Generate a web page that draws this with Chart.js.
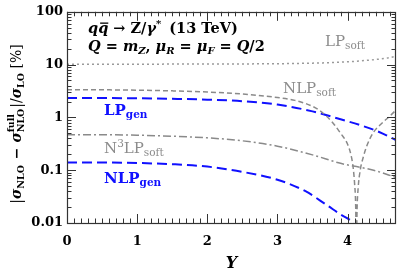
<!DOCTYPE html>
<html><head><meta charset="utf-8">
<script src="https://cdn.jsdelivr.net/npm/chart.js@4/dist/chart.umd.min.js"></script>
<style>html,body{margin:0;padding:0;background:#fff;}#wrap{width:399px;height:271px;}</style>
</head><body><div id="wrap"><canvas id="c" width="399" height="271"></canvas></div>
<script>
// ---- data ----
const xTicks = [0, 1, 2, 3, 4];
const yTicks = [0.01, 0.1, 1, 10, 100];
const yTickLabels = ['0.01', '0.1', '1', '10', '100'];

const lpSoftX = [0, 1, 2, 2.5, 3, 3.5, 3.8, 4, 4.2, 4.4, 4.55, 4.69];
const lpSoftV = [10.2, 10.2, 10.25, 10.3, 10.4, 10.65, 10.95, 11.3, 11.8, 12.5, 13.2, 14.4];

const nlpSoftX = [0, 0.5, 1, 1.5, 2, 2.5, 3, 3.25, 3.5, 3.6, 3.7, 3.8, 3.9, 4.0, 4.05, 4.08, 4.1, 4.115, 4.125, 4.135, 4.15, 4.18, 4.22, 4.27, 4.36, 4.5, 4.6, 4.69];
const nlpSoftV = [3.35, 3.33, 3.28, 3.18, 3.02, 2.77, 2.38, 2.1, 1.62, 1.35, 1.05, 0.76, 0.5, 0.31, 0.19, 0.11, 0.055, 0.022, 0.003, 0.018, 0.045, 0.1, 0.17, 0.28, 0.5, 0.8, 1.05, 1.38];

const lpGenX = [0, 0.5, 1, 1.5, 2, 2.5, 3, 3.5, 3.9, 4.2, 4.45, 4.69];
const lpGenV = [2.33, 2.33, 2.3, 2.25, 2.17, 2.03, 1.75, 1.3, 0.92, 0.7, 0.53, 0.37];

const n3lpSoftX = [0, 0.5, 1, 1.5, 2, 2.5, 3, 3.5, 3.9, 4.37, 4.69];
const n3lpSoftV = [0.47, 0.47, 0.46, 0.44, 0.41, 0.36, 0.285, 0.195, 0.135, 0.1, 0.073];

const nlpGenX = [0, 0.5, 1, 1.5, 2, 2.5, 3, 3.4, 3.7, 3.9, 4.04, 4.12];
const nlpGenV = [0.14, 0.14, 0.137, 0.13, 0.117, 0.093, 0.066, 0.04, 0.022, 0.0145, 0.0112, 0.0085];

// ---- helpers ----
const pts = (xs, vs) => xs.map((x, i) => ({x: x, y: vs[i]}));
const FAM = '"DejaVu Serif", serif';
const BLUE = '#1010ff';
const GRAY = '#8c8c8c';
function fnt(p, base) {
  const sz = p.z || base;
  return (p.i ? 'italic ' : '') + (p.b === false ? 'normal ' : 'bold ') + sz + 'px ' + FAM;
}
function measure(ctx, parts, base) {
  let w = 0;
  for (const p of parts) {
    ctx.font = fnt(p, base);
    let w1 = ctx.measureText(p.t).width;
    if (p.stack) { ctx.font = fnt(p.stack, base); w1 = Math.max(w1, ctx.measureText(p.stack.t).width); }
    w += w1 + (p.k || 0);
  }
  return w;
}
function drawRich(ctx, x, y, parts, base, color, align) {
  ctx.save();
  ctx.fillStyle = color; ctx.strokeStyle = color;
  ctx.textBaseline = 'alphabetic'; ctx.textAlign = 'left';
  let cx = x;
  if (align === 'center') cx = x - measure(ctx, parts, base) / 2;
  for (const p of parts) {
    ctx.font = fnt(p, base);
    const w1 = ctx.measureText(p.t).width;
    ctx.fillText(p.t, cx, y + (p.dy || 0));
    let w = w1;
    if (p.bar) {
      ctx.lineWidth = 1.3; ctx.beginPath();
      ctx.moveTo(cx + 2, y - base * 0.68); ctx.lineTo(cx + w1, y - base * 0.68); ctx.stroke();
    }
    if (p.stack) {
      ctx.font = fnt(p.stack, base);
      ctx.fillText(p.stack.t, cx, y + (p.stack.dy || 0));
      w = Math.max(w1, ctx.measureText(p.stack.t).width);
    }
    cx += w + (p.k || 0);
  }
  ctx.restore();
}

const decor = {
  id: 'decor',
  afterDatasetsDraw(chart) {
    const ctx = chart.ctx, a = chart.chartArea, xs = chart.scales.x, ys = chart.scales.y;
    ctx.save();
    ctx.setLineDash([]);
    ctx.strokeStyle = '#333'; ctx.lineWidth = 1;
    ctx.beginPath();
    // x ticks (bottom/top)
    for (let k = 0; k <= 46; k++) {
      const px = Math.round(xs.getPixelForValue(k / 10)) + 0.5;
      const len = (k % 10 === 0) ? 9 : 4.5;
      ctx.moveTo(px, a.bottom); ctx.lineTo(px, a.bottom - len);
      ctx.moveTo(px, a.top); ctx.lineTo(px, a.top + len);
    }
    // y ticks (left/right)
    for (let d = -2; d <= 1; d++) {
      for (let m = 1; m <= 9; m++) {
        const py = Math.round(ys.getPixelForValue(m * Math.pow(10, d))) + 0.5;
        const len = (m === 1) ? 9 : 4.5;
        ctx.moveTo(a.left, py); ctx.lineTo(a.left + len, py);
        ctx.moveTo(a.right, py); ctx.lineTo(a.right - len, py);
      }
    }
    ctx.stroke();
    ctx.lineWidth = 1.2;
    ctx.strokeRect(Math.round(a.left) + 0.5, Math.round(a.top) + 0.5, Math.round(a.right - a.left) - 1, Math.round(a.bottom - a.top));
    ctx.restore();
  },
  afterDraw(chart) {
    const ctx = chart.ctx, a = chart.chartArea;
    const B = 14.5, S = 10;
    // process text
    drawRich(ctx, 88, 33, [
      {t: 'q', i: true}, {t: 'q', i: true, bar: true}, {t: ' → Z/'}, {t: 'γ', i: true},
      {t: '*', z: 10, dy: -6, k: 3}, {t: ' (13 TeV)'}
    ], B, '#000');
    drawRich(ctx, 88, 50.5, [
      {t: 'Q', i: true}, {t: ' = '}, {t: 'm', i: true}, {t: 'Z', i: true, z: S, dy: 3},
      {t: ', '}, {t: 'μ', i: true}, {t: 'R', i: true, z: S, dy: 3}, {t: ' = '},
      {t: 'μ', i: true}, {t: 'F', i: true, z: S, dy: 3}, {t: ' = '}, {t: 'Q', i: true}, {t: '/2'}
    ], B, '#000');
    // curve labels
    const L = 15, LS = 10.5;
    drawRich(ctx, 325, 45.5, [{t: 'LP', b: false}, {t: 'soft', b: false, z: LS, dy: 3}], L, GRAY);
    drawRich(ctx, 283, 93, [{t: 'NLP', b: false}, {t: 'soft', b: false, z: LS, dy: 3}], L, GRAY);
    drawRich(ctx, 104, 115, [{t: 'LP'}, {t: 'gen', z: LS, dy: 3}], L, BLUE);
    drawRich(ctx, 104, 152.5, [{t: 'N', b: false}, {t: '3', b: false, z: LS, dy: -6}, {t: 'LP', b: false}, {t: 'soft', b: false, z: LS, dy: 3}], L, GRAY);
    drawRich(ctx, 104, 183, [{t: 'NLP'}, {t: 'gen', z: LS, dy: 3}], L, BLUE);
    // x title
    drawRich(ctx, (a.left + a.right) / 2, 268, [{t: 'Y', i: true}], 16, '#000', 'center');
    // y title (rotated)
    ctx.save();
    ctx.translate(21, 124);
    ctx.rotate(-Math.PI / 2);
    drawRich(ctx, 0, 0, [
      {t: '|', b: false}, {t: 'σ', i: true}, {t: 'NLO', z: 9.5, dy: 3, k: 1}, {t: ' − '},
      {t: 'σ', i: true}, {t: 'NLO', z: 9.5, dy: 3, stack: {t: 'full', z: 9.5, dy: -7}, k: 1},
      {t: '|/', b: false}, {t: 'σ', i: true}, {t: 'LO', z: 9.5, dy: 3}, {t: ' [%]', b: false}
    ], 14, '#000', 'center');
    ctx.restore();
  }
};

const ds = (label, xs, vs, color, width, dash) => ({
  label: label, data: pts(xs, vs), borderColor: color, borderWidth: width,
  borderDash: dash, pointRadius: 0, fill: false, cubicInterpolationMode: 'monotone'
});

new Chart(document.getElementById('c'), {
  type: 'line',
  data: {
    datasets: [
      ds('LP soft', lpSoftX, lpSoftV, '#9a9a9a', 1.5, [2, 3]),
      ds('NLP soft', nlpSoftX, nlpSoftV, '#8a8a8a', 1.5, [5, 3]),
      ds('N3LP soft', n3lpSoftX, n3lpSoftV, '#8a8a8a', 1.5, [8, 3, 2, 3]),
      ds('LP gen', lpGenX, lpGenV, BLUE, 2, [10, 5]),
      ds('NLP gen', nlpGenX, nlpGenV, BLUE, 2, [10, 5])
    ]
  },
  options: {
    responsive: false, animation: false, devicePixelRatio: 1,
    layout: {padding: {top: 0, right: 3, left: 0, bottom: 0}},
    plugins: {legend: {display: false}, tooltip: {enabled: false}},
    scales: {
      x: {
        type: 'linear', min: 0, max: 4.69,
        afterBuildTicks: s => { s.ticks = xTicks.map(v => ({value: v})); },
        afterFit: s => { s.height = 48; },
        grid: {display: false, drawTicks: false}, border: {display: false},
        ticks: {color: '#000', padding: 11, maxRotation: 0, font: {family: 'DejaVu Serif', weight: 'bold', size: 13}}
      },
      y: {
        type: 'logarithmic', min: 0.01, max: 100,
        afterBuildTicks: s => { s.ticks = yTicks.map(v => ({value: v})); },
        afterFit: s => { s.width = 67; },
        grid: {display: false, drawTicks: false}, border: {display: false},
        ticks: {
          color: '#000', padding: 4, font: {family: 'DejaVu Serif', weight: 'bold', size: 13},
          callback: (v) => { const i = yTicks.indexOf(v); return i >= 0 ? yTickLabels[i] : ''; }
        }
      }
    }
  },
  plugins: [decor]
});
</script></body></html>
